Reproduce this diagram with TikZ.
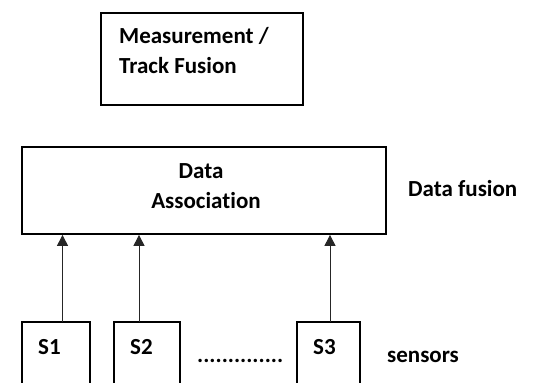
\documentclass[tikz,border=0pt]{standalone}
\usepackage{fontspec}
\setmainfont{Carlito}[Ligatures=NoCommon]
\usetikzlibrary{arrows.meta}
\begin{document}
\begin{tikzpicture}[x=1pt,y=-1pt,
  box/.style={draw, line width=1.8pt, inner sep=0pt},
  openbox/.style={draw=none, inner sep=0pt},
  boxline/.style={line width=1.8pt},
  lbl/.style={font=\fontsize{23}{30}\selectfont\bfseries, inner sep=0pt, anchor=base west},
  clbl/.style={font=\fontsize{23}{30}\selectfont\bfseries, inner sep=0pt, anchor=base},
  conn/.style={line width=1pt, draw=black!85, -{Triangle[length=11pt,width=11pt]}}]
\useasboundingbox (0,0) rectangle (533,383);
% top box
\node[box, minimum width=202pt, minimum height=92pt] (mtf) at (202,59) {};
\node[lbl] (mtf1) at (119,43) {Measurement /};
\node[lbl] (mtf2) at (119,73) {Track Fusion};
% data association
\node[box, minimum width=364pt, minimum height=87pt] (da) at (204,190.5) {};
\node[clbl] (da1) at (201,178) {Data};
\node[clbl] (da2) at (206,208) {Association};
\node[lbl] (df) at (408,196) {Data fusion};
% sensors
\node[openbox, minimum width=68pt, minimum height=62pt] (s1) at (56,353) {};
\node[openbox, minimum width=66pt, minimum height=62pt] (s2) at (147,353) {};
\node[openbox, minimum width=63pt, minimum height=62pt] (s3) at (328.5,353) {};
\draw[boxline] (s1.south west) -- (s1.north west) -- (s1.north east) -- (s1.south east);
\draw[boxline] (s2.south west) -- (s2.north west) -- (s2.north east) -- (s2.south east);
\draw[boxline] (s3.south west) -- (s3.north west) -- (s3.north east) -- (s3.south east);
\node[lbl] (s1l) at (38,354) {S1};
\node[lbl] (s2l) at (130,354) {S2};
\node[lbl] (s3l) at (313,354) {S3};
\node[lbl] (dots) at (197,362) {..............};
\node[lbl] (sens) at (387,362) {sensors};
% connectors
\draw[conn] ([xshift=6.5pt]s1.north) -- ([xshift=6.5pt]s1.north |- da.south);
\draw[conn] ([xshift=-8pt]s2.north) -- ([xshift=-8pt]s2.north |- da.south);
\draw[conn] ([xshift=1.5pt]s3.north) -- ([xshift=1.5pt]s3.north |- da.south);
\end{tikzpicture}
\end{document}
